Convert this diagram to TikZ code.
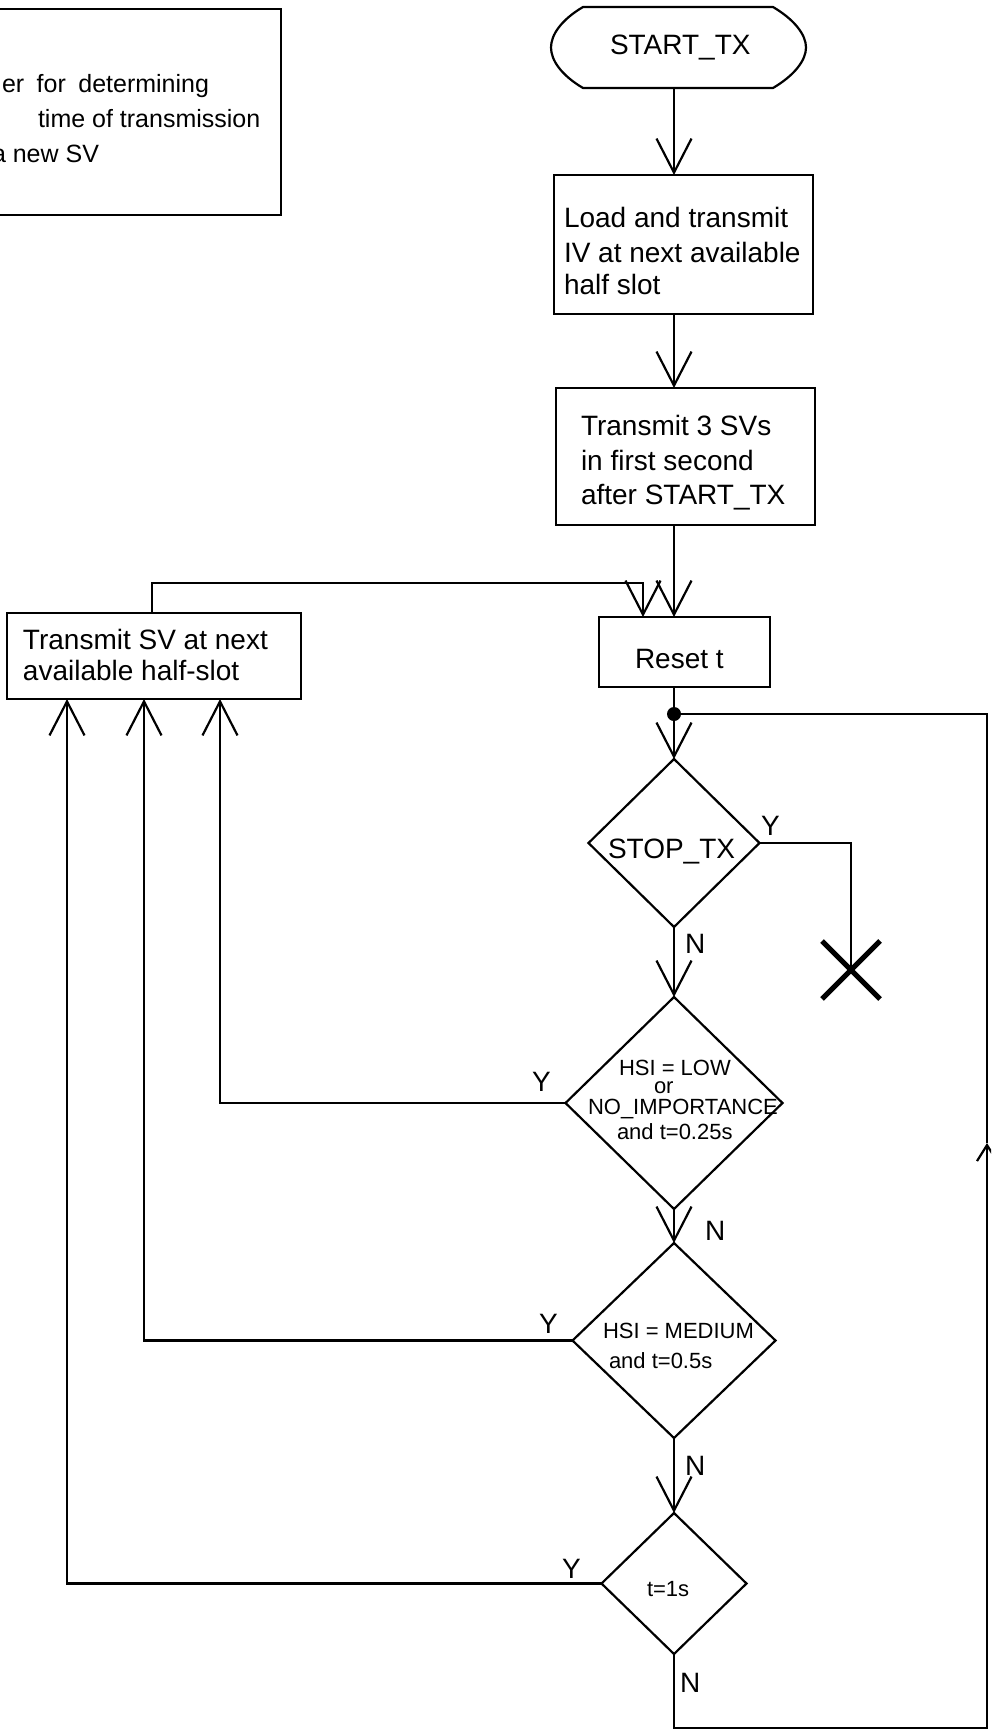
\documentclass[tikz,border=0pt]{standalone}
\usepackage{fontspec}
\setmainfont{Liberation Sans}
\usetikzlibrary{arrows.meta,shapes.geometric,shapes.misc}
\begin{document}
\begin{tikzpicture}[x=1pt,y=-1pt,
  line width=2.2pt,
  box/.style={draw, line width=2.6pt, rectangle, inner sep=0pt, outer sep=0pt},
  dec/.style={draw, diamond, inner sep=0pt, outer sep=0pt},
  lbl/.style={anchor=base west, inner sep=0pt, outer sep=0pt, font=\fontsize{28}{33}\selectfont},
  smalltxt/.style={anchor=base west, inner sep=0pt, outer sep=0pt, font=\fontsize{22}{26}\selectfont},
  notetxt/.style={anchor=base west, inner sep=0pt, outer sep=0pt, font=\fontsize{25}{30}\selectfont},
  flow/.style={-{Straight Barb[length=34pt,width=35pt]}},
  smallflow/.style={-{Straight Barb[length=16pt,width=20pt]}},
]
\useasboundingbox (0,0) rectangle (991,1731);
\fill[white] (0,0) rectangle (991,1731);
\clip (0,0) rectangle (991,1731);

% note box (cut at left edge)
\node[box, line width=2.7pt, minimum width=301pt, minimum height=206pt] (notebox) at (130.5,112) {};
\node[notetxt] (n1) at (2,93) {\makebox[207pt][s]{er for determining}};
\node[notetxt] (n2) at (38,128) {time of transmission};
\node[notetxt] (n3) at (-8,163) {a new SV};

% start terminal
\node[minimum width=255pt, minimum height=81pt, inner sep=0pt, outer sep=0pt] (start) at (678.5,47.5) {};
\draw (583,7) -- (773,7) .. controls (795,20) and (806,35) .. (806,47.5)
      .. controls (806,60) and (795,75) .. (773,88) -- (583,88)
      .. controls (561,75) and (551,60) .. (551,47.5)
      .. controls (551,35) and (561,20) .. (583,7) -- cycle;
\node[lbl] (starttxt) at (610,55) {START\_TX};

% boxes
\node[box, minimum width=259pt, minimum height=139pt] (box1) at (683.5,244.5) {};
\node[lbl] (b1a) at (564,227) {Load and transmit};
\node[lbl] (b1b) at (564,262) {IV at next available};
\node[lbl] (b1c) at (564,294) {half slot};

\node[box, minimum width=259pt, minimum height=137pt] (box2) at (685.5,456.5) {};
\node[lbl] (b2a) at (581,435) {Transmit 3 SVs};
\node[lbl] (b2b) at (581,470) {in first second};
\node[lbl] (b2c) at (581,504) {after START\_TX};

\node[box, minimum width=171pt, minimum height=70pt] (reset) at (684.5,652) {};
\node[lbl] (resettxt) at (635,668) {Reset t};

\node[box, minimum width=294pt, minimum height=86pt] (leftbox) at (154,656) {};
\node[lbl] (lba) at (23,649) {Transmit SV at next};
\node[lbl] (lbb) at (23,680) {available half-slot};

% decisions
\node[dec, minimum width=171pt, minimum height=168pt] (stop) at (674,843) {};
\node[lbl] (stoptxt) at (608,858) {STOP\_TX};

\node[dec, minimum width=217pt, minimum height=212pt] (hsi) at (674,1103) {};
\node[smalltxt] (h1) at (619,1075) {HSI = LOW};
\node[smalltxt] (h2) at (654,1093) {or};
\node[smalltxt] (h3) at (588,1114) {NO\_IMPORTANCE};
\node[smalltxt] (h4) at (617,1139) {and t=0.25s};

\node[dec, minimum width=203pt, minimum height=195pt] (med) at (674,1340.5) {};
\node[smalltxt] (m1) at (603,1338) {HSI = MEDIUM};
\node[smalltxt] (m2) at (609,1368) {and t=0.5s};

\node[dec, minimum width=145pt, minimum height=141pt] (tone) at (674,1583.5) {};
\node[smalltxt] (t1) at (647,1596) {t=1s};

% stop symbol
\node[cross out, draw, line width=5pt, minimum size=58pt, inner sep=0pt, outer sep=0pt] (xm) at (851,970) {};

% Y / N labels
\node[lbl] (ys) at (761,835) {Y};
\node[lbl] (ns) at (685,953) {N};
\node[lbl] (yh) at (532,1091) {Y};
\node[lbl] (nh) at (705,1240) {N};
\node[lbl] (ym) at (539,1333) {Y};
\node[lbl] (nm) at (685,1475) {N};
\node[lbl] (yt) at (562,1578) {Y};
\node[lbl] (nt) at (680,1692) {N};

% helper coordinates
\coordinate (col) at (674,0);
\coordinate (dot) at (674,714);
\coordinate (fbx) at (152,0);
\coordinate (fbc) at (643,583);
\coordinate (ya) at (220,0);
\coordinate (yb) at (144,0);
\coordinate (yc) at (67,0);
\coordinate (brc) at (987,1728);
\coordinate (uparr) at (987,1143);

% connectors
\draw[flow] (start.south -| col) -- (box1.north -| col);
\draw[flow] (box1.south -| col) -- (box2.north -| col);
\draw[flow] (box2.south -| col) -- (reset.north -| col);
\draw[flow] (leftbox.north -| fbx) |- (fbc) -- (reset.north -| fbc);
\draw (reset.south -| col) -- (dot);
\draw[flow] (dot) -- (stop.north);
\draw (stop.east) -| (xm.center);
\draw[flow] (stop.south) -- (hsi.north);
\draw[flow] (hsi.west) -| (leftbox.south -| ya);
\draw[flow] (hsi.south) -- (med.north);
\draw[flow] (med.west) -| (leftbox.south -| yb);
\draw[flow] (med.south) -- (tone.north);
\draw[flow] (tone.west) -| (leftbox.south -| yc);
\draw[smallflow] (tone.south) |- (brc) -- (uparr);
\draw (uparr) |- (dot);
\fill (dot) circle (7pt);
\end{tikzpicture}
\end{document}
